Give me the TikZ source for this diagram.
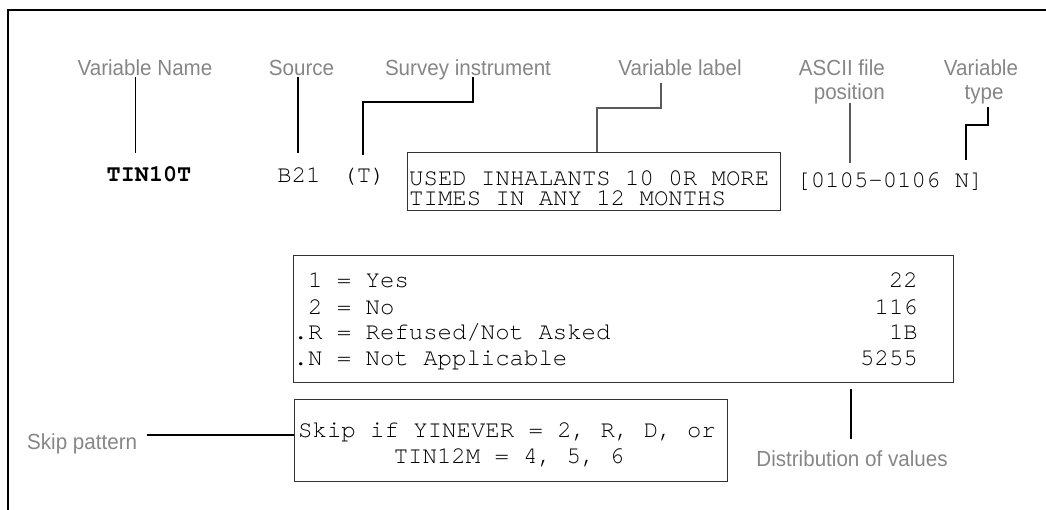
\documentclass[tikz,border=0pt]{standalone}
\usepackage{fontspec}
\setmainfont{Liberation Sans}
\setmonofont{TeX Gyre Cursor}
\definecolor{labelgray}{HTML}{868686}
\definecolor{leadgray}{HTML}{5A5A5A}
\definecolor{boxline}{HTML}{333333}
% sans captions are set a little tall
\newcommand\sy[1]{\scalebox{1}[1.06]{#1}}
\begin{document}
\begin{tikzpicture}[x=1pt,y=-1pt,
  lbl/.style={font=\fontsize{20.6pt}{24pt}\selectfont, text=labelgray, inner sep=0pt},
  code/.style={font=\ttfamily\fontsize{24pt}{19pt}\selectfont, inner sep=0pt},
  codebold/.style={font=\ttfamily\bfseries\fontsize{23.5pt}{19pt}\selectfont, inner sep=0pt},
  panel/.style={draw=boxline, line width=1.1pt, inner sep=0pt, anchor=north west},
  leader/.style={draw=black, line width=1.2pt},
  softleader/.style={draw=leadgray, line width=1.3pt}]
\useasboundingbox (0,0) rectangle (1046,510);

% outer frame (top and left edges)
\draw[line width=2pt] (8,510) -- (8,10) -- (1046,10);

% field captions
\node[lbl, anchor=base] (vname) at (145,76) {\sy{Variable Name}};
\node[lbl, anchor=base] (source) at (301.5,76) {\sy{Source}};
\node[lbl, anchor=base] (survey) at (468,76) {\sy{Survey instrument}};
\node[lbl, anchor=base] (vlabel) at (680,76) {\sy{Variable label}};
\node[lbl, anchor=base east] (ascii) at (885,76) {\sy{ASCII file}};
\node[lbl, anchor=base east] (pos) at (885,100) {\sy{position}};
\node[lbl, anchor=base] (vtype) at (981,76) {\sy{Variable}};
\node[lbl, anchor=base] (vtype2) at (984,100) {\sy{type}};

% codebook entry line
\node[codebold, anchor=base] (name) at (149,182) {TIN10T};
\node[code, anchor=base] (src) at (299,183) {B21};
\node[code, anchor=base] (inst) at (364,183) {(T)};
\node[code, anchor=base] (posn) at (890,188) {[0105-0106 N]};

% variable label box
\node[panel, minimum width=373pt, minimum height=58pt] (vbox) at (407,152) {};
\node[code, anchor=base west] (vl1) at (409,185.5) {USED INHALANTS 10 0R MORE};
\node[code, anchor=base west] (vl2) at (409,205.5) {TIMES IN ANY 12 MONTHS};

% value distribution box
\node[panel, minimum width=660pt, minimum height=127pt] (dist) at (293,255) {};
\node[code, anchor=base west] (d1) at (293.5,288) {\phantom{.}1 = Yes};
\node[code, anchor=base west] (d2) at (293.5,315) {\phantom{.}2 = No};
\node[code, anchor=base west] (d3) at (293.5,339) {.R = Refused/Not Asked};
\node[code, anchor=base west] (d4) at (293.5,365) {.N = Not Applicable};
\node[code, anchor=base east] (n1) at (918,288) {22};
\node[code, anchor=base east] (n2) at (918,315) {116};
\node[code, anchor=base east] (n3) at (918,339) {1B};
\node[code, anchor=base east] (n4) at (918,365) {5255};

% skip pattern box
\node[panel, minimum width=433pt, minimum height=82pt] (skip) at (294,399) {};
\node[code, anchor=base] (s1) at (507,437) {Skip if YINEVER = 2, R, D, or};
\node[code, anchor=base] (s2) at (509,463) {TIN12M = 4, 5, 6};

\node[lbl, anchor=base west] (skiplbl) at (27,449) {\sy{Skip pattern}};
\node[lbl, anchor=base] (distlbl) at (852,466) {\sy{Distribution of values}};

% leader end points
\coordinate (vnA) at (135.5,77);   \coordinate (vnB) at (135.5,153);
\coordinate (srA) at (298,77);     \coordinate (srB) at (298,153);
\coordinate (svA) at (473,77);     \coordinate (svB) at (363,155);
\coordinate (vlA) at (661,83);     \coordinate (vlB) at (597,152);
\coordinate (psA) at (850,103);    \coordinate (psB) at (850,163);
\coordinate (tyA) at (988,107);    \coordinate (tyB) at (966,160);
\coordinate (skA) at (147,435);    \coordinate (skB) at (294,435);
\coordinate (dvA) at (851,389);    \coordinate (dvB) at (851,439);

% leaders
\draw[leader] (vnA) -- (vnB);
\draw[leader] (srA) -- (srB);
\draw[leader] (svA) -- ++(0,25) -| (svB);
\draw[softleader] (vlA) -- ++(0,25) -| (vlB);
\draw[softleader] (psA) -- (psB);
\draw[leader] (tyA) -- ++(0,18) -| (tyB);
\draw[leader] (skA) -- (skB);
\draw[leader] (dvA) -- (dvB);
\end{tikzpicture}
\end{document}
